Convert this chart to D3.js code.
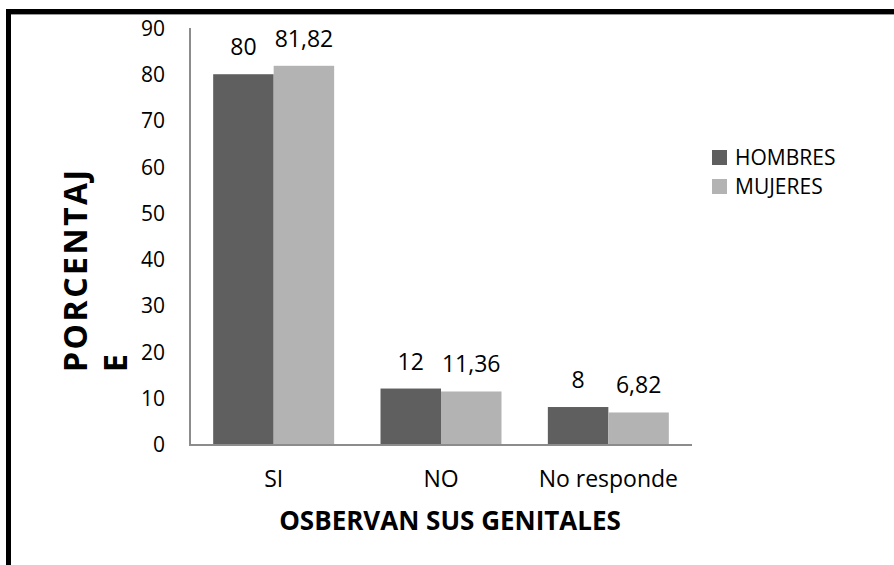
<!DOCTYPE html>
<html>
<head>
<meta charset="utf-8">
<script src="https://cdn.jsdelivr.net/npm/d3@7"></script>
<style>
  body { margin: 0; background: #fff; }
  svg text { font-family: "Open Sans", sans-serif; fill: #000; }
</style>
</head>
<body>
<div id="chart"></div>
<script>
// Data
var categories = ['SI', 'NO', 'No responde'];
var series = ['HOMBRES', 'MUJERES'];
var hombres = [80, 12, 8];
var mujeres = [81.82, 11.36, 6.82];
var valueLabels = [['80', '12', '8'], ['81,82', '11,36', '6,82']];
var yTicks = [0, 10, 20, 30, 40, 50, 60, 70, 80, 90];
var colors = ['#5f5f5f', '#b3b3b3'];

(function() {
    var width = 894, height = 565;
    var svg = d3.select('#chart').append('svg')
        .attr('width', width).attr('height', height);

    // Outer frame (only top and left edges show)
    svg.append('rect')
        .attr('x', 8.5).attr('y', 11.5)
        .attr('width', 1000).attr('height', 1000)
        .attr('fill', 'none').attr('stroke', '#000').attr('stroke-width', 5);
    svg.append('line')
        .attr('x1', 11).attr('x2', width).attr('y1', 14.5).attr('y2', 14.5)
        .attr('stroke', '#999').attr('stroke-width', 1);

    var plotLeft = 190, plotRight = 692, plotTop = 28, plotBottom = 444;

    var x = d3.scaleBand().domain(categories).range([plotLeft, plotRight])
        .paddingInner(0.277).paddingOuter(0.1385);
    var xs = d3.scaleBand().domain(series).range([0, x.bandwidth()]);
    var y = d3.scaleLinear().domain([0, 90]).range([plotBottom, plotTop]);

    // Y tick labels
    svg.append('g').selectAll('text').data(yTicks).enter().append('text')
        .attr('x', 165).attr('y', function(d) { return y(d) + 8; })
        .attr('text-anchor', 'end')
        .style('font-size', '21px')
        .text(function(d) { return d; });

    // Bars and value labels
    var data = [hombres, mujeres];
    data.forEach(function(vals, s) {
        svg.append('g').selectAll('rect').data(vals).enter().append('rect')
            .attr('x', function(d, i) { return x(categories[i]) + xs(series[s]); })
            .attr('y', function(d) { return y(d); })
            .attr('width', xs.bandwidth())
            .attr('height', function(d) { return y(0) - y(d); })
            .attr('fill', colors[s]);

        svg.append('g').selectAll('text').data(vals).enter().append('text')
            .attr('x', function(d, i) { return x(categories[i]) + xs(series[s]) + xs.bandwidth() / 2; })
            .attr('y', function(d) { return y(d) - 19; })
            .attr('text-anchor', 'middle')
            .style('font-size', '23px')
            .text(function(d, i) { return valueLabels[s][i]; });
    });

    // Axis lines
    svg.append('line')
        .attr('x1', plotLeft).attr('x2', plotLeft).attr('y1', plotTop).attr('y2', plotBottom + 1)
        .attr('stroke', '#8c8c8c').attr('stroke-width', 2);
    svg.append('line')
        .attr('x1', plotLeft - 1).attr('x2', plotRight).attr('y1', plotBottom + 1).attr('y2', plotBottom + 1)
        .attr('stroke', '#8c8c8c').attr('stroke-width', 2);

    // Category labels
    svg.append('g').selectAll('text').data(categories).enter().append('text')
        .attr('x', function(d) { return x(d) + x.bandwidth() / 2; })
        .attr('y', 487)
        .attr('text-anchor', 'middle')
        .style('font-size', '23px')
        .text(function(d) { return d; });

    // Axis titles
    svg.append('text')
        .attr('x', 450).attr('y', 530)
        .attr('text-anchor', 'middle')
        .style('font-size', '26px').style('font-weight', 'bold')
        .text('OSBERVAN SUS GENITALES');

    var yt = svg.append('g').attr('transform', 'translate(87,372) rotate(-90)');
    yt.append('text').attr('x', 0).attr('y', 0)
        .style('font-size', '32px').style('font-weight', 'bold')
        .style('letter-spacing', '2.5px')
        .text('PORCENTAJ');
    yt.append('text').attr('x', 0).attr('y', 40)
        .style('font-size', '32px').style('font-weight', 'bold')
        .text('E');

    // Legend
    var legend = svg.append('g').selectAll('g').data(series).enter().append('g')
        .attr('transform', function(d, i) { return 'translate(712,' + (150 + i * 29) + ')'; });
    legend.append('rect')
        .attr('width', 15).attr('height', 15)
        .attr('fill', function(d, i) { return colors[i]; });
    legend.append('text')
        .attr('x', 23).attr('y', 15)
        .style('font-size', '21px')
        .text(function(d) { return d; });
}());
</script>
</body>
</html>
